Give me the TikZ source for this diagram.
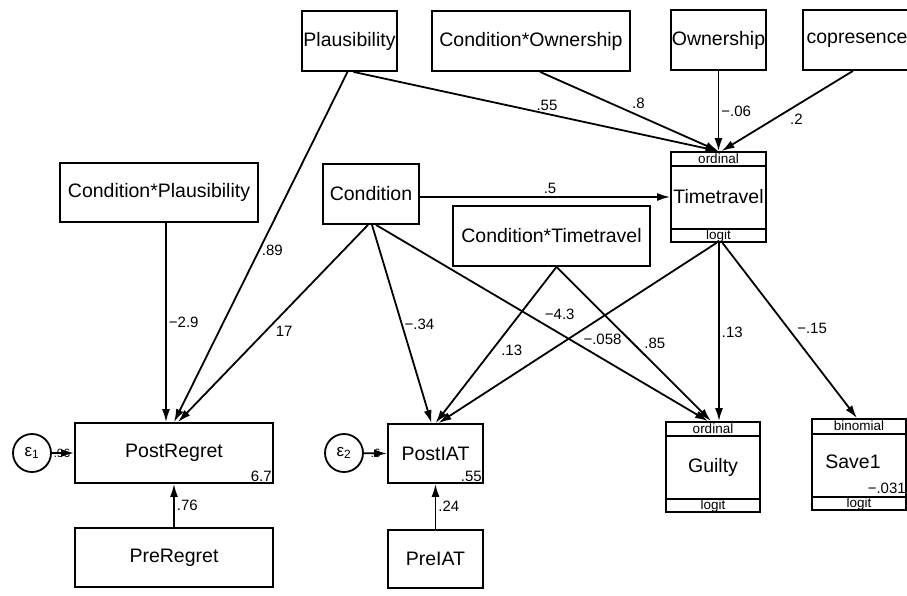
\documentclass[tikz,border=0pt]{standalone}
\usepackage{fontspec}
\setmainfont{Liberation Sans}
\usetikzlibrary{arrows.meta}

\begin{document}
\begin{tikzpicture}[x=1pt, y=-1pt,
	var/.style={draw, line width=1.8pt, inner sep=0pt, font=\fontsize{19.5}{22}\selectfont},
	err/.style={draw, circle, line width=1.8pt, minimum size=38pt, inner sep=0pt, font=\fontsize{17}{19}\selectfont},
	lab/.style={font=\fontsize{15}{17}\selectfont, inner sep=2pt},
	small/.style={font=\fontsize{13.5}{14}\selectfont, inner sep=0pt},
	tiny/.style={font=\fontsize{12}{13}\selectfont, inner sep=0pt},
	strip/.style={line width=1.8pt},
	path/.style={-{Latex[length=13pt,width=8pt]}, line width=1.8pt}]
				\useasboundingbox (0,0) rectangle (907,595);
				\begin{scope}
					% top row
					\node[var, minimum width=95pt, minimum height=60pt] (pl) at (349.5,41) {Plausibility};
					\node[var, minimum width=198pt, minimum height=60pt] (cow) at (531,41) {Condition*Ownership};
					\node[var, minimum width=95pt, minimum height=60pt] (ow) at (718.5,40) {Ownership};
					\node[var, minimum width=108pt, minimum height=60pt] (cop) at (857,40) {copresence};

					% middle row
					\node[var, minimum width=198pt, minimum height=59pt] (cpl) at (159,192.5) {Condition*Plausibility};
					\node[var, minimum width=96pt, minimum height=60pt] (con) at (371,194) {Condition};
					\node[var, minimum width=197pt, minimum height=60pt] (ctt) at (551.5,236) {Condition*Timetravel};
					\node[var, minimum width=95pt, minimum height=90pt] (tt) at (718.5,197) {Timetravel};
					\draw[strip] ([yshift=-15pt]tt.north west) -- ([yshift=-15pt]tt.north east);
					\draw[strip] ([yshift=14pt]tt.south west) -- ([yshift=14pt]tt.south east);
					\node[small] (ttord) at ([yshift=-7.5pt]tt.north) {ordinal};
					\node[small] (ttlog) at ([yshift=7pt]tt.south) {logit};

					% outcomes
					\node[var, minimum width=198pt, minimum height=60pt] (pr) at (174,453) {PostRegret};
					\node[lab, anchor=south east] (prc) at (pr.south east) {6.7};
					\node[var, minimum width=95pt, minimum height=59pt] (pi) at (435.5,453.5) {PostIAT};
					\node[lab, anchor=south east] (pic) at (pi.south east) {.55};

					\node[var, minimum width=94pt, minimum height=90pt] (gu) at (713,467) {Guilty};
					\draw[strip] ([yshift=-15pt]gu.north west) -- ([yshift=-15pt]gu.north east);
					\draw[strip] ([yshift=14pt]gu.south west) -- ([yshift=14pt]gu.south east);
					\node[small] (guord) at ([yshift=-7.5pt]gu.north) {ordinal};
					\node[small] (gulog) at ([yshift=7pt]gu.south) {logit};

					\node[var, minimum width=94pt, minimum height=91pt] (sv) at (859,464.5) {};
					\node[font=\fontsize{19.5}{22}\selectfont, inner sep=0pt] (svt) at (853,462) {Save1};
					\draw[strip] ([yshift=-16pt]sv.north west) -- ([yshift=-16pt]sv.north east);
					\draw[strip] ([yshift=14pt]sv.south west) -- ([yshift=14pt]sv.south east);
					\node[small] (svord) at ([yshift=-8pt]sv.north) {binomial};
					\node[small] (svlog) at ([yshift=7pt]sv.south) {logit};
					\node[lab, anchor=south east, inner sep=1pt] (svc) at ([yshift=16pt]sv.south east) {−.031};

					% bottom row
					\node[var, minimum width=198pt, minimum height=59pt] (prr) at (174,557.5) {PreRegret};
					\node[var, minimum width=95pt, minimum height=58pt] (pia) at (435.5,559) {PreIAT};

					% errors
					\node[err] (e1) at (32,453) {ε\textsubscript{1}};
					\node[err] (e2) at (344,453) {ε\textsubscript{2}};

					\draw[path] (e1) -- (pr.west) node[tiny, pos=0.45] (v1) {.96}; % da e1 a PostRegret
					\draw[path] (e2) -- (pi.west) node[tiny, pos=0.5] (v2) {.6}; % da e2 a PostIAT

					% paths into Timetravel
					\draw[path] ([xshift=4pt]pl.south) -- node[lab, pos=0.53, anchor=south] (l55) {.55} (tt.north); % da Plausibility a Timetravel
					\draw[path] ([xshift=9pt]cow.south) -- node[lab, pos=0.5, anchor=south west] (l8) {.8} (tt.north); % da Condition*Ownership a Timetravel
					\draw[path] (ow.south) -- node[lab, pos=0.5, anchor=west] (l06) {−.06} (tt.north); % da Ownership a Timetravel
					\draw[path] ([xshift=-4pt]cop.south) -- node[lab, pos=0.5, anchor=north west] (l2) {.2} ([xshift=3pt]tt.north); % da copresence a Timetravel
					\draw[path] ([yshift=-3pt]con.east) -- node[lab, pos=0.52, anchor=south] (l5) {.5} (tt.west); % da Condition a Timetravel

					% paths into PostRegret
					\draw[path] ([xshift=7pt]cpl.south) -- node[lab, pos=0.5, anchor=west] (l29) {−2.9} ([xshift=-8pt]pr.north); % da Condition*Plausibility a PostRegret
					\draw[path] ([xshift=-2pt]pl.south) -- node[lab, pos=0.51, anchor=west] (l89) {.89} (pr.north); % da Plausibility a PostRegret
					\draw[path] ([xshift=-3pt]con.south) -- node[lab, pos=0.5, anchor=north west] (l17) {17} ([xshift=4pt]pr.north); % da Condition a PostRegret
					\draw[path] (prr.north) -- node[lab, pos=0.5, anchor=west] (l76) {.76} (pr.south); % da PreRegret a PostRegret

					% paths into PostIAT
					\draw[path] ([xshift=1pt]con.south) -- node[lab, pos=0.5, anchor=west] (l34) {−.34} ([xshift=-4pt]pi.north); % da Condition a PostIAT
					\draw[path] ([xshift=5pt]ctt.south) -- node[lab, pos=0.48, anchor=north west] (l13a) {.13} (pi.north); % da Condition*Timetravel a PostIAT
					\draw[path] ([xshift=-2pt]tt.south) -- node[lab, pos=0.41, anchor=north, yshift=-14pt] (l058) {−.058} ([xshift=3pt]pi.north); % da Timetravel a PostIAT
					\draw[path] (pia.north) -- node[lab, pos=0.5, anchor=west] (l24) {.24} (pi.south); % da PreIAT a PostIAT

					% paths into Guilty and Save1
					\draw[path] ([xshift=5pt]con.south) -- node[lab, pos=0.5, anchor=south west] (l43) {−4.3} ([xshift=-5pt]gu.north); % da Condition a Guilty
					\draw[path] ([xshift=5pt]ctt.south) -- node[lab, pos=0.55, anchor=south west] (l85) {.85} ([xshift=-2pt]gu.north); % da Condition*Timetravel a Guilty
					\draw[path] ([xshift=0.5pt]tt.south) -- node[lab, pos=0.5, anchor=west] (l13b) {.13} ([xshift=6pt]gu.north); % da Timetravel a Guilty
					\draw[path] ([xshift=4pt]tt.south) -- node[lab, pos=0.49, anchor=west, xshift=6pt] (l15) {−.15} ([xshift=-2pt]sv.north); % da Timetravel a Save1
				\end{scope}
			\end{tikzpicture}
\end{document}
